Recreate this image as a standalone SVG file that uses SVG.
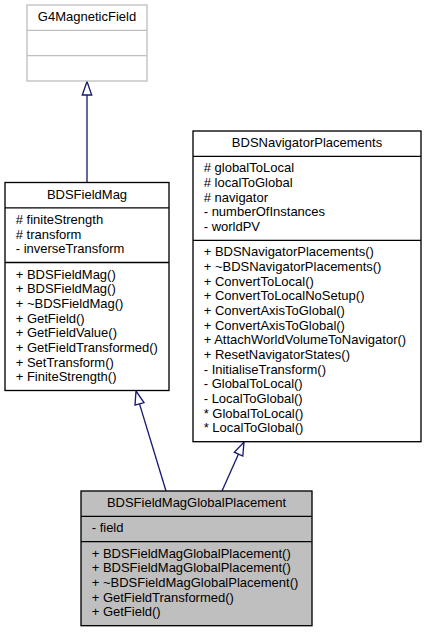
<svg xmlns="http://www.w3.org/2000/svg" width="426" height="632" viewBox="0 0 426 632">
<style>
text{font-family:"Liberation Sans",Arial,Helvetica,sans-serif;font-size:13px;fill:#000}
.t{text-anchor:middle}
.box{fill:#fff;stroke:#000;stroke-width:1.33}
.gbox{fill:#fff;stroke:#bfbfbf;stroke-width:1.33}
.cur{fill:#bfbfbf;stroke:#000;stroke-width:1.33}
.div{stroke:#000;stroke-width:1.33}
.gdiv{stroke:#bfbfbf;stroke-width:1.33}
.edge{stroke:#191970;stroke-width:1.33;fill:none}
.head{stroke:#191970;stroke-width:1.33;fill:#fff}
</style>
<rect width="426" height="632" fill="#fff"/>
<g id="edges">
<path class="edge" d="M87,182.5 L87,95"/>
<polygon class="head" points="87,81.5 82.3,95 91.7,95"/>
<path class="edge" d="M166,491 L139.5,403.9"/>
<polygon class="head" points="136,391 144,402.7 135,405.1"/>
<path class="edge" d="M222,491 L238.5,454.1"/>
<polygon class="head" points="244,442 242.8,456 234.3,452.2"/>
</g>
<g id="G4MagneticField">
<rect class="gbox" x="27" y="5" width="120" height="76"/>
<line class="gdiv" x1="27" y1="30.3" x2="147" y2="30.3"/>
<line class="gdiv" x1="27" y1="55.7" x2="147" y2="55.7"/>
<text class="t" x="87" y="21">G4MagneticField</text>
</g>
<g id="BDSFieldMag">
<rect class="box" x="5" y="182.5" width="164" height="208"/>
<line class="div" x1="5" y1="207.8" x2="169" y2="207.8"/>
<line class="div" x1="5" y1="262.5" x2="169" y2="262.5"/>
<text class="t" x="87" y="198.5">BDSFieldMag</text>
<text x="15.7" y="223.8"># finiteStrength</text>
<text x="15.7" y="238.5"># transform</text>
<text x="15.7" y="253.2">- inverseTransform</text>
<text x="15.7" y="278.5">+ BDSFieldMag()</text>
<text x="15.7" y="293.2">+ BDSFieldMag()</text>
<text x="15.7" y="307.8">+ ~BDSFieldMag()</text>
<text x="15.7" y="322.5">+ GetField()</text>
<text x="15.7" y="337.2">+ GetFieldValue()</text>
<text x="15.7" y="351.8">+ GetFieldTransformed()</text>
<text x="15.7" y="366.5">+ SetTransform()</text>
<text x="15.7" y="381.2">+ FiniteStrength()</text>
</g>
<g id="BDSNavigatorPlacements">
<rect class="box" x="193" y="131" width="228" height="310.7"/>
<line class="div" x1="193" y1="156.3" x2="421" y2="156.3"/>
<line class="div" x1="193" y1="240.3" x2="421" y2="240.3"/>
<text class="t" x="307" y="147">BDSNavigatorPlacements</text>
<text x="203.7" y="172.3"># globalToLocal</text>
<text x="203.7" y="187"># localToGlobal</text>
<text x="203.7" y="201.7"># navigator</text>
<text x="203.7" y="216.3">- numberOfInstances</text>
<text x="203.7" y="231">- worldPV</text>
<text x="203.7" y="256.3">+ BDSNavigatorPlacements()</text>
<text x="203.7" y="271">+ ~BDSNavigatorPlacements()</text>
<text x="203.7" y="285.7">+ ConvertToLocal()</text>
<text x="203.7" y="300.3">+ ConvertToLocalNoSetup()</text>
<text x="203.7" y="315">+ ConvertAxisToGlobal()</text>
<text x="203.7" y="329.7">+ ConvertAxisToGlobal()</text>
<text x="203.7" y="344.3">+ AttachWorldVolumeToNavigator()</text>
<text x="203.7" y="359">+ ResetNavigatorStates()</text>
<text x="203.7" y="373.7">- InitialiseTransform()</text>
<text x="203.7" y="388.3">- GlobalToLocal()</text>
<text x="203.7" y="403">- LocalToGlobal()</text>
<text x="203.7" y="417.7">* GlobalToLocal()</text>
<text x="203.7" y="432.3">* LocalToGlobal()</text>
</g>
<g id="BDSFieldMagGlobalPlacement">
<rect class="cur" x="81" y="491" width="231" height="134.7"/>
<line class="div" x1="81" y1="516.3" x2="312" y2="516.3"/>
<line class="div" x1="81" y1="541.7" x2="312" y2="541.7"/>
<text class="t" x="196.5" y="507">BDSFieldMagGlobalPlacement</text>
<text x="91.7" y="532.3">- field</text>
<text x="91.7" y="557.7">+ BDSFieldMagGlobalPlacement()</text>
<text x="91.7" y="572.3">+ BDSFieldMagGlobalPlacement()</text>
<text x="91.7" y="587">+ ~BDSFieldMagGlobalPlacement()</text>
<text x="91.7" y="601.7">+ GetFieldTransformed()</text>
<text x="91.7" y="616.3">+ GetField()</text>
</g>
</svg>
